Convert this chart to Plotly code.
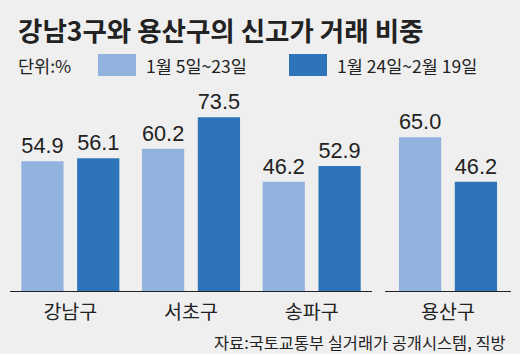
import plotly.graph_objects as go

# ---- data ----
districts_main = ["강남구", "서초구", "송파구"]
districts_extra = ["용산구"]
series_names = ["1월 5일~23일", "1월 24일~2월 19일"]
period1_main = [54.9, 60.2, 46.2]
period2_main = [56.1, 73.5, 52.9]
period1_extra = [65.0]
period2_extra = [46.2]

title_text = "강남3구와 용산구의 신고가 거래 비중"
unit_text = "단위:%"
source_text = "자료:국토교통부 실거래가 공개시스템, 직방"

# ---- style ----
W, H = 520, 354
BG = "#efefef"
LIGHT = "#93b3df"
DARK = "#2d74ba"
TXT = "#222222"
KFONT = "Noto Sans CJK KR"
NUMFONT = "Liberation Sans Narrow, Arial Narrow, Liberation Sans, sans-serif"

top, base = 100, 291          # pixel rows of plot area top / baseline
plot_h = base - top
px_per_unit = 2.365
ymax = plot_h / px_per_unit


def py(p):
    return (base - p) / plot_h


fig = go.Figure()

def add_bars(x, y1, y2, xa, ya):
    for vals, col, name in ((y1, LIGHT, series_names[0]), (y2, DARK, series_names[1])):
        fig.add_trace(go.Bar(
            x=x, y=vals, name=name, marker=dict(color=col, line=dict(width=0)),
            xaxis=xa, yaxis=ya, showlegend=False,
            text=[f"{v:.1f}" for v in vals], textposition="outside",
            textfont=dict(family=NUMFONT, size=26, color=TXT),
            cliponaxis=False,
        ))

add_bars(districts_main, period1_main, period2_main, "x", "y")
add_bars(districts_extra, period1_extra, period2_extra, "x2", "y2")

axis_common = dict(showline=True, linecolor=TXT, linewidth=1.3, ticks="",
                   showgrid=False, zeroline=False, ticklabelstandoff=3,
                   tickfont=dict(family=KFONT, size=19.5, color=TXT))
yaxis_common = dict(range=[0, ymax], visible=False, showgrid=False, zeroline=False)

fig.update_layout(
    width=W, height=H,
    paper_bgcolor=BG, plot_bgcolor=BG,
    margin=dict(l=0, r=0, t=top, b=H - base, pad=0),
    barmode="group", bargap=0.075, bargroupgap=0.243,
    xaxis=dict(domain=[10 / W, 372 / W], anchor="y", **axis_common),
    xaxis2=dict(domain=[385 / W, 511 / W], anchor="y2", range=[-0.522, 0.522], **axis_common),
    yaxis=dict(anchor="x", **yaxis_common),
    yaxis2=dict(anchor="x2", **yaxis_common),
    showlegend=False,
)

# title
fig.add_annotation(text=title_text, x=16 / W, y=py(30), xref="paper", yref="paper",
                   xanchor="left", yanchor="middle", showarrow=False,
                   font=dict(family=KFONT, size=26.5, color=TXT, weight="bold"))
# unit
fig.add_annotation(text=unit_text, x=16 / W, y=py(65), xref="paper", yref="paper",
                   xanchor="left", yanchor="middle", showarrow=False,
                   font=dict(family=KFONT, size=17.5, color=TXT))
# legend swatches + labels
for (x0, x1, tx), col, name in (((98, 136, 144), LIGHT, series_names[0]),
                                ((289, 327, 335), DARK, series_names[1])):
    fig.add_shape(type="rect", xref="paper", yref="paper",
                  x0=x0 / W, x1=x1 / W, y0=py(76), y1=py(54),
                  fillcolor=col, line=dict(width=0))
    fig.add_annotation(text=name, x=tx / W, y=py(65), xref="paper", yref="paper",
                       xanchor="left", yanchor="middle", showarrow=False,
                       font=dict(family=KFONT, size=17.5, color=TXT))
# source
fig.add_annotation(text=source_text, x=508 / W, y=py(342), xref="paper", yref="paper",
                   xanchor="right", yanchor="middle", showarrow=False,
                   font=dict(family=KFONT, size=16.4, color=TXT))

fig.write_html("out.html")
